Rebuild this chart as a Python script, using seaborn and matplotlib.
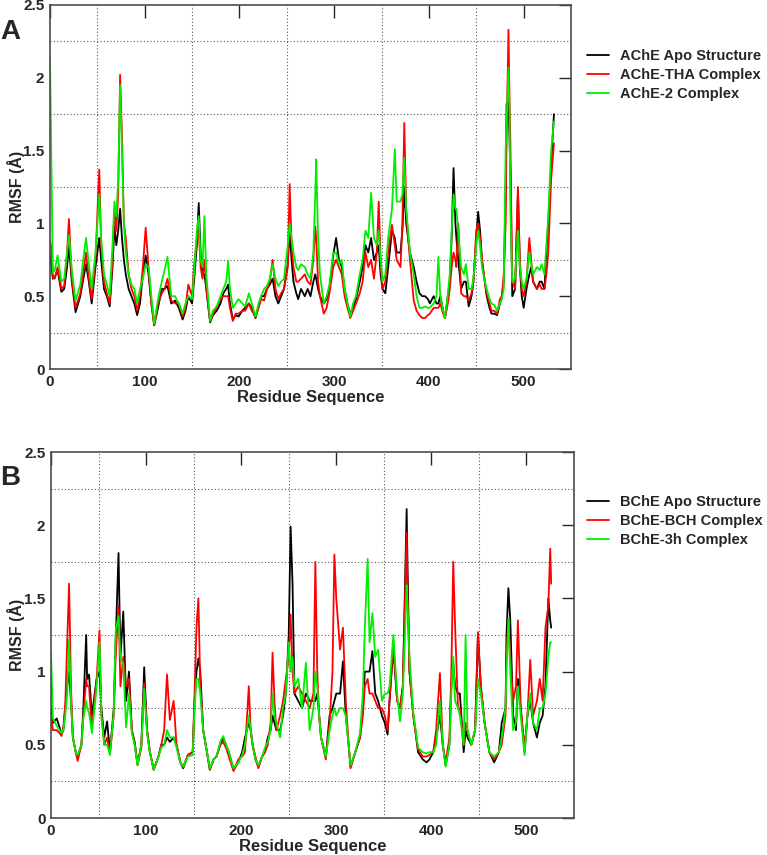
import pandas as pd
import matplotlib
matplotlib.use("Agg")
import matplotlib.pyplot as plt
import seaborn as sns

# PANEL A - AChE (values at peaks / valleys)
res_a = [0, 1, 3, 5, 8, 12, 15, 18, 20, 23,
         27, 32, 36, 38, 41, 44, 48, 52, 54, 57,
         60, 63, 66, 68, 70, 72, 74, 76, 78, 80,
         83, 86, 89, 92, 95, 98, 101, 104, 107, 110,
         114, 118, 121, 124, 128, 132, 136, 140, 143, 146,
         150, 152, 155, 157, 159, 161, 163, 165, 169, 172,
         176, 180, 183, 186, 188, 190, 193, 196, 199, 203,
         206, 210, 213, 217, 220, 223, 226, 229, 232, 235,
         238, 241, 244, 247, 251, 253, 255, 257, 260, 262,
         265, 269, 272, 275, 278, 280, 281, 283, 285, 289,
         292, 295, 299, 302, 305, 308, 311, 314, 317, 320,
         323, 327, 330, 333, 336, 339, 342, 345, 347, 349,
         351, 354, 357, 361, 364, 366, 370, 372, 374, 376,
         378, 380, 384, 387, 390, 393, 396, 399, 401, 405,
         408, 410, 412, 415, 417, 420, 422, 424, 426, 428,
         429, 431, 434, 437, 439, 442, 445, 447, 450, 452,
         454, 456, 459, 461, 464, 466, 469, 472, 475, 477,
         479, 481, 482, 484, 485, 486, 488, 491, 494, 496,
         498, 500, 503, 506, 508, 510, 514, 517, 519, 522,
         524, 526, 529, 532]

ache_apo = [0.78, 0.75, 0.62, 0.63, 0.68, 0.53, 0.55, 0.70, 0.85, 0.60,
            0.39, 0.50, 0.65, 0.72, 0.60, 0.45, 0.70, 0.90, 0.75, 0.55,
            0.50, 0.43, 0.70, 0.98, 0.85, 0.95, 1.10, 0.90, 0.75, 0.65,
            0.55, 0.50, 0.45, 0.37, 0.45, 0.65, 0.78, 0.65, 0.45, 0.30,
            0.42, 0.55, 0.55, 0.57, 0.45, 0.47, 0.42, 0.34, 0.40, 0.50,
            0.45, 0.60, 0.85, 1.14, 0.80, 0.65, 0.65, 0.55, 0.32, 0.37,
            0.40, 0.45, 0.52, 0.55, 0.58, 0.45, 0.34, 0.37, 0.36, 0.40,
            0.42, 0.45, 0.42, 0.35, 0.42, 0.50, 0.50, 0.55, 0.58, 0.62,
            0.50, 0.45, 0.50, 0.55, 0.72, 0.95, 0.75, 0.60, 0.52, 0.48,
            0.55, 0.50, 0.55, 0.50, 0.60, 0.65, 0.62, 0.55, 0.50, 0.45,
            0.48, 0.55, 0.78, 0.90, 0.75, 0.70, 0.55, 0.45, 0.38, 0.42,
            0.48, 0.60, 0.70, 0.85, 0.80, 0.90, 0.75, 0.80, 0.85, 0.65,
            0.55, 0.52, 0.70, 0.95, 0.90, 0.80, 0.80, 0.95, 1.25, 1.00,
            0.90, 0.80, 0.70, 0.60, 0.52, 0.50, 0.50, 0.48, 0.45, 0.50,
            0.45, 0.45, 0.50, 0.40, 0.35, 0.50, 0.60, 0.90, 1.38, 1.00,
            0.90, 0.75, 0.55, 0.60, 0.60, 0.43, 0.50, 0.60, 0.90, 1.08,
            0.95, 0.75, 0.60, 0.50, 0.42, 0.38, 0.38, 0.37, 0.45, 0.50,
            0.60, 1.20, 1.82, 1.85, 1.60, 1.35, 0.50, 0.55, 1.22, 0.70,
            0.50, 0.42, 0.55, 0.65, 0.70, 0.60, 0.55, 0.60, 0.60, 0.55,
            0.80, 1.00, 1.40, 1.75]

ache_tha = [0.88, 0.85, 0.63, 0.62, 0.70, 0.55, 0.57, 0.80, 1.03, 0.62,
            0.42, 0.52, 0.70, 0.80, 0.62, 0.48, 0.75, 1.37, 0.85, 0.60,
            0.52, 0.45, 0.75, 1.10, 0.95, 1.20, 2.02, 1.60, 1.00, 0.90,
            0.65, 0.55, 0.50, 0.40, 0.50, 0.70, 0.97, 0.70, 0.45, 0.30,
            0.45, 0.52, 0.55, 0.62, 0.47, 0.45, 0.45, 0.36, 0.42, 0.58,
            0.50, 0.70, 0.90, 0.95, 0.70, 0.62, 0.75, 0.55, 0.33, 0.38,
            0.42, 0.48, 0.50, 0.50, 0.50, 0.42, 0.33, 0.38, 0.38, 0.40,
            0.40, 0.45, 0.40, 0.36, 0.42, 0.48, 0.47, 0.55, 0.60, 0.75,
            0.55, 0.48, 0.52, 0.55, 0.70, 1.27, 0.85, 0.70, 0.60, 0.60,
            0.62, 0.65, 0.60, 0.58, 0.75, 0.98, 0.90, 0.60, 0.50, 0.38,
            0.42, 0.52, 0.70, 0.75, 0.70, 0.65, 0.50, 0.42, 0.35, 0.40,
            0.45, 0.52, 0.60, 0.80, 0.70, 0.75, 0.62, 0.80, 1.15, 0.75,
            0.55, 0.60, 0.80, 0.99, 0.85, 0.75, 0.70, 1.00, 1.69, 1.10,
            0.90, 0.75, 0.47, 0.40, 0.37, 0.35, 0.35, 0.37, 0.38, 0.42,
            0.42, 0.42, 0.45, 0.38, 0.35, 0.45, 0.55, 0.70, 0.80, 0.75,
            0.70, 1.00, 0.52, 0.50, 0.50, 0.47, 0.52, 0.60, 0.95, 1.00,
            0.90, 0.75, 0.60, 0.52, 0.45, 0.40, 0.40, 0.38, 0.48, 0.50,
            0.65, 1.00, 1.60, 2.33, 1.90, 1.55, 0.60, 0.55, 1.25, 0.75,
            0.55, 0.50, 0.60, 0.90, 0.75, 0.60, 0.55, 0.58, 0.55, 0.55,
            0.65, 0.80, 1.30, 1.55]

ache_2 = [2.14, 1.63, 0.66, 0.68, 0.78, 0.60, 0.62, 0.80, 0.92, 0.68,
          0.47, 0.58, 0.80, 0.90, 0.72, 0.55, 0.80, 1.20, 0.90, 0.65,
          0.58, 0.50, 0.85, 1.15, 1.05, 1.30, 1.95, 1.50, 1.00, 0.80,
          0.65, 0.58, 0.55, 0.45, 0.55, 0.62, 0.72, 0.70, 0.50, 0.31,
          0.48, 0.60, 0.68, 0.77, 0.50, 0.50, 0.45, 0.38, 0.45, 0.50,
          0.48, 0.65, 0.95, 1.05, 0.75, 0.70, 1.05, 0.65, 0.33, 0.40,
          0.43, 0.50, 0.55, 0.60, 0.74, 0.55, 0.42, 0.45, 0.48, 0.45,
          0.43, 0.52, 0.45, 0.36, 0.45, 0.50, 0.55, 0.57, 0.62, 0.72,
          0.62, 0.57, 0.60, 0.62, 0.85, 1.00, 0.90, 0.80, 0.70, 0.68,
          0.72, 0.70, 0.65, 0.62, 0.80, 1.20, 1.44, 0.90, 0.65, 0.45,
          0.50, 0.58, 0.80, 0.80, 0.72, 0.75, 0.55, 0.45, 0.36, 0.45,
          0.50, 0.65, 0.75, 0.95, 0.90, 1.21, 0.90, 0.85, 0.95, 0.75,
          0.60, 0.65, 0.90, 1.10, 1.51, 1.15, 1.15, 1.20, 1.45, 1.10,
          0.95, 0.80, 0.65, 0.50, 0.42, 0.42, 0.43, 0.42, 0.42, 0.45,
          0.50, 0.77, 0.50, 0.40, 0.35, 0.52, 0.65, 0.95, 1.20, 1.10,
          1.10, 0.95, 0.70, 0.65, 0.72, 0.55, 0.55, 0.62, 0.85, 0.95,
          0.85, 0.70, 0.60, 0.55, 0.48, 0.45, 0.44, 0.40, 0.45, 0.48,
          0.55, 1.50, 1.70, 2.07, 1.80, 1.10, 0.60, 0.62, 0.95, 0.70,
          0.60, 0.55, 0.62, 0.80, 0.72, 0.65, 0.70, 0.68, 0.72, 0.65,
          0.85, 1.05, 1.50, 1.70]

# PANEL B - BChE
res_b = [0, 2, 6, 9, 11, 13, 15, 17, 19, 21,
         23, 26, 28, 32, 34, 37, 38, 40, 43, 45,
         48, 51, 53, 56, 59, 62, 66, 68, 71, 73,
         76, 79, 82, 85, 88, 91, 95, 98, 101, 104,
         108, 113, 116, 119, 122, 125, 129, 132, 136, 139,
         144, 149, 151, 153, 155, 157, 160, 164, 167, 171,
         174, 178, 181, 184, 187, 192, 197, 201, 204, 208,
         210, 212, 215, 218, 222, 225, 228, 231, 233, 235,
         237, 241, 244, 247, 250, 252, 254, 256, 260, 264,
         268, 272, 276, 278, 280, 282, 284, 289, 293, 296,
         298, 300, 304, 307, 310, 313, 315, 320, 325, 328,
         330, 333, 335, 338, 341, 344, 348, 351, 354, 356,
         360, 364, 367, 370, 372, 374, 375, 377, 381, 386,
         391, 395, 398, 402, 405, 409, 412, 415, 419, 421,
         423, 425, 428, 430, 434, 436, 438, 442, 446, 449,
         452, 456, 461, 466, 471, 474, 478, 479, 481, 483,
         486, 489, 491, 494, 498, 501, 504, 507, 511, 514,
         517, 520, 523, 525, 526]

bche_apo = [0.75, 0.65, 0.68, 0.62, 0.57, 0.60, 0.75, 0.90, 1.00, 0.80,
            0.55, 0.45, 0.42, 0.50, 0.75, 1.25, 0.95, 0.98, 0.70, 0.80,
            0.95, 1.00, 0.75, 0.55, 0.66, 0.45, 0.75, 1.20, 1.81, 1.10,
            1.41, 0.80, 1.00, 0.60, 0.52, 0.37, 0.50, 1.03, 0.60, 0.45,
            0.33, 0.42, 0.50, 0.50, 0.55, 0.52, 0.55, 0.50, 0.38, 0.34,
            0.43, 0.45, 0.80, 1.00, 1.09, 1.00, 0.60, 0.45, 0.33, 0.40,
            0.42, 0.50, 0.55, 0.50, 0.45, 0.33, 0.38, 0.45, 0.55, 0.65,
            0.60, 0.50, 0.40, 0.35, 0.42, 0.45, 0.55, 0.60, 0.70, 0.65,
            0.60, 0.60, 0.70, 0.85, 1.25, 1.99, 1.60, 0.85, 0.80, 0.75,
            0.85, 0.80, 0.80, 0.80, 0.85, 0.70, 0.55, 0.42, 0.70, 0.75,
            0.80, 0.85, 0.85, 1.07, 0.70, 0.50, 0.35, 0.45, 0.55, 0.75,
            1.00, 1.00, 1.00, 1.14, 0.85, 0.80, 0.70, 0.65, 0.57, 0.80,
            1.16, 0.80, 0.75, 0.90, 1.50, 2.11, 1.70, 1.00, 0.70, 0.45,
            0.40, 0.38, 0.40, 0.45, 0.55, 0.70, 0.50, 0.36, 0.50, 0.90,
            1.05, 0.90, 0.85, 0.85, 0.45, 0.60, 0.55, 0.50, 0.60, 1.25,
            0.90, 0.65, 0.45, 0.38, 0.45, 0.65, 0.75, 1.25, 1.57, 1.35,
            0.70, 0.60, 0.95, 0.75, 0.45, 0.70, 0.80, 0.65, 0.55, 0.65,
            0.70, 0.90, 1.50, 1.35, 1.30]

bche_bch = [0.70, 0.60, 0.60, 0.58, 0.56, 0.62, 0.78, 1.20, 1.60, 0.90,
            0.55, 0.45, 0.39, 0.50, 0.70, 0.95, 0.90, 0.90, 0.60, 0.75,
            0.95, 1.28, 0.70, 0.50, 0.55, 0.44, 0.70, 1.10, 1.45, 0.90,
            1.10, 0.90, 0.95, 0.60, 0.50, 0.36, 0.48, 0.92, 0.60, 0.45,
            0.33, 0.42, 0.50, 0.60, 0.98, 0.67, 0.80, 0.50, 0.38, 0.35,
            0.43, 0.45, 0.85, 1.30, 1.50, 0.90, 0.60, 0.45, 0.33, 0.40,
            0.42, 0.50, 0.52, 0.48, 0.42, 0.32, 0.40, 0.42, 0.45, 0.90,
            0.60, 0.50, 0.42, 0.34, 0.42, 0.45, 0.50, 0.65, 1.13, 0.80,
            0.60, 0.70, 0.80, 0.95, 1.10, 1.39, 1.00, 0.85, 0.90, 0.85,
            0.80, 0.75, 0.85, 1.75, 1.00, 0.70, 0.55, 0.40, 0.65, 1.00,
            1.80, 1.50, 1.15, 1.30, 0.80, 0.50, 0.34, 0.45, 0.55, 0.70,
            0.90, 0.95, 0.85, 0.85, 0.80, 0.75, 0.75, 0.70, 0.60, 0.80,
            1.20, 0.80, 0.75, 0.90, 1.40, 1.95, 1.50, 1.00, 0.70, 0.47,
            0.42, 0.42, 0.43, 0.45, 0.60, 0.99, 0.50, 0.38, 0.55, 1.00,
            1.75, 1.30, 0.75, 0.75, 0.50, 0.65, 0.60, 0.50, 0.60, 1.27,
            0.90, 0.65, 0.45, 0.40, 0.45, 0.50, 0.70, 1.10, 1.35, 1.10,
            0.80, 0.90, 1.35, 0.75, 0.48, 0.70, 1.08, 0.70, 0.80, 0.95,
            0.80, 1.30, 1.45, 1.84, 1.60]

bche_3h = [1.13, 0.68, 0.63, 0.60, 0.58, 0.60, 0.70, 0.85, 1.22, 0.80,
           0.55, 0.45, 0.43, 0.50, 0.68, 0.80, 0.75, 0.72, 0.58, 0.70,
           0.90, 1.20, 0.70, 0.50, 0.50, 0.43, 0.72, 1.28, 1.38, 1.10,
           1.05, 0.62, 0.85, 0.58, 0.50, 0.36, 0.50, 0.88, 0.58, 0.45,
           0.33, 0.42, 0.48, 0.50, 0.60, 0.55, 0.55, 0.48, 0.38, 0.35,
           0.42, 0.43, 0.75, 0.95, 0.95, 0.85, 0.60, 0.45, 0.34, 0.40,
           0.42, 0.52, 0.56, 0.50, 0.45, 0.34, 0.38, 0.43, 0.50, 0.70,
           0.60, 0.50, 0.40, 0.36, 0.42, 0.48, 0.52, 0.60, 0.85, 0.70,
           0.65, 0.55, 0.75, 0.85, 1.20, 1.00, 1.10, 0.90, 0.95, 0.75,
           1.06, 0.60, 0.75, 1.00, 0.90, 0.70, 0.55, 0.42, 0.60, 0.70,
           0.75, 0.70, 0.75, 0.75, 0.70, 0.50, 0.36, 0.45, 0.58, 0.85,
           1.30, 1.77, 1.20, 1.40, 1.10, 1.15, 0.80, 0.85, 0.85, 0.90,
           1.25, 0.85, 0.66, 0.85, 1.20, 1.59, 1.45, 1.10, 0.72, 0.48,
           0.45, 0.44, 0.45, 0.45, 0.50, 0.80, 0.50, 0.35, 0.50, 0.85,
           1.10, 0.80, 0.75, 0.70, 0.50, 1.25, 0.60, 0.50, 0.60, 0.95,
           0.85, 0.65, 0.45, 0.42, 0.45, 0.55, 0.75, 1.00, 1.36, 1.00,
           0.60, 0.65, 0.90, 0.70, 0.43, 0.70, 0.85, 0.65, 0.60, 0.75,
           0.75, 0.85, 1.10, 1.20, 1.20]

labels_a = ["AChE Apo Structure", "AChE-THA Complex", "AChE-2 Complex"]
labels_b = ["BChE Apo Structure", "BChE-BCH Complex", "BChE-3h Complex"]
colors = ["black", "#ff0000", "#00ee00"]

# long format tables for seaborn
df_a = pd.DataFrame({"res": res_a, labels_a[0]: ache_apo,
                     labels_a[1]: ache_tha, labels_a[2]: ache_2})
df_a = df_a.melt(id_vars="res", var_name="system", value_name="rmsf")
df_b = pd.DataFrame({"res": res_b, labels_b[0]: bche_apo,
                     labels_b[1]: bche_bch, labels_b[2]: bche_3h})
df_b = df_b.melt(id_vars="res", var_name="system", value_name="rmsf")

sns.set_style("white")
plt.rcParams['font.family'] = ['Liberation Sans', 'DejaVu Sans']
plt.rcParams['font.weight'] = 'bold'

fig = plt.figure(figsize=(7.67, 8.55), dpi=100)
W, H = 767, 855
ax_a = fig.add_axes([50 / W, 1 - 369 / H, 521 / W, 364 / H])
ax_b = fig.add_axes([51 / W, 1 - 818 / H, 523 / W, 366 / H])


def style_axis(ax, df, labels, leg_top, ylab_x):
    sns.lineplot(data=df, x="res", y="rmsf", hue="system", hue_order=labels,
                 palette=colors, estimator=None, linewidth=1.3, ax=ax)
    ax.set_xlim(0, 550)
    ax.set_ylim(0, 2.5)
    ax.set_xticks([0, 100, 200, 300, 400, 500])
    ax.set_yticks([0, 0.5, 1, 1.5, 2, 2.5])
    ax.set_yticklabels(["0", "0.5", "1", "1.5", "2", "2.5"])
    ax.set_xticks([50, 150, 250, 350, 450], minor=True)
    ax.set_yticks([0.25, 0.75, 1.25, 1.75, 2.25], minor=True)
    ax.grid(False)
    ax.grid(which="minor", linestyle=(0, (1, 2)), color="0.35", linewidth=0.8)
    ax.tick_params(which="major", direction="in", length=9, width=1,
                   top=True, right=True, labelsize=11, pad=4)
    ax.tick_params(which="minor", length=0)
    for lab in ax.get_xticklabels() + ax.get_yticklabels():
        lab.set_fontweight("bold")
    for sp in ax.spines.values():
        sp.set_color("0.3")
        sp.set_linewidth(1.2)
    ax.set_xlabel("Residue Sequence", fontsize=12, fontweight="bold", labelpad=1)
    ax.set_ylabel("RMSF (Å)", fontsize=11.5, fontweight="bold")
    ax.yaxis.set_label_coords(ylab_x, 0.5)
    ax.legend(loc="upper left", bbox_to_anchor=(574 / W, leg_top),
              bbox_transform=fig.transFigure, frameon=False, handlelength=1.5,
              handletextpad=0.75, prop={"size": 10.5, "weight": "bold"},
              labelspacing=0.35)


style_axis(ax_a, df_a, labels_a, 1 - 36 / H, (25 - 50) / 521)
style_axis(ax_b, df_b, labels_b, 1 - 482 / H, (25 - 51) / 523)

fig.text(0 / W, 1 - 32 / H, "A", fontsize=20, fontweight="bold", va="center")
fig.text(0 / W, 1 - 478 / H, "B", fontsize=20, fontweight="bold", va="center")

fig.savefig("out.png", dpi=100)
